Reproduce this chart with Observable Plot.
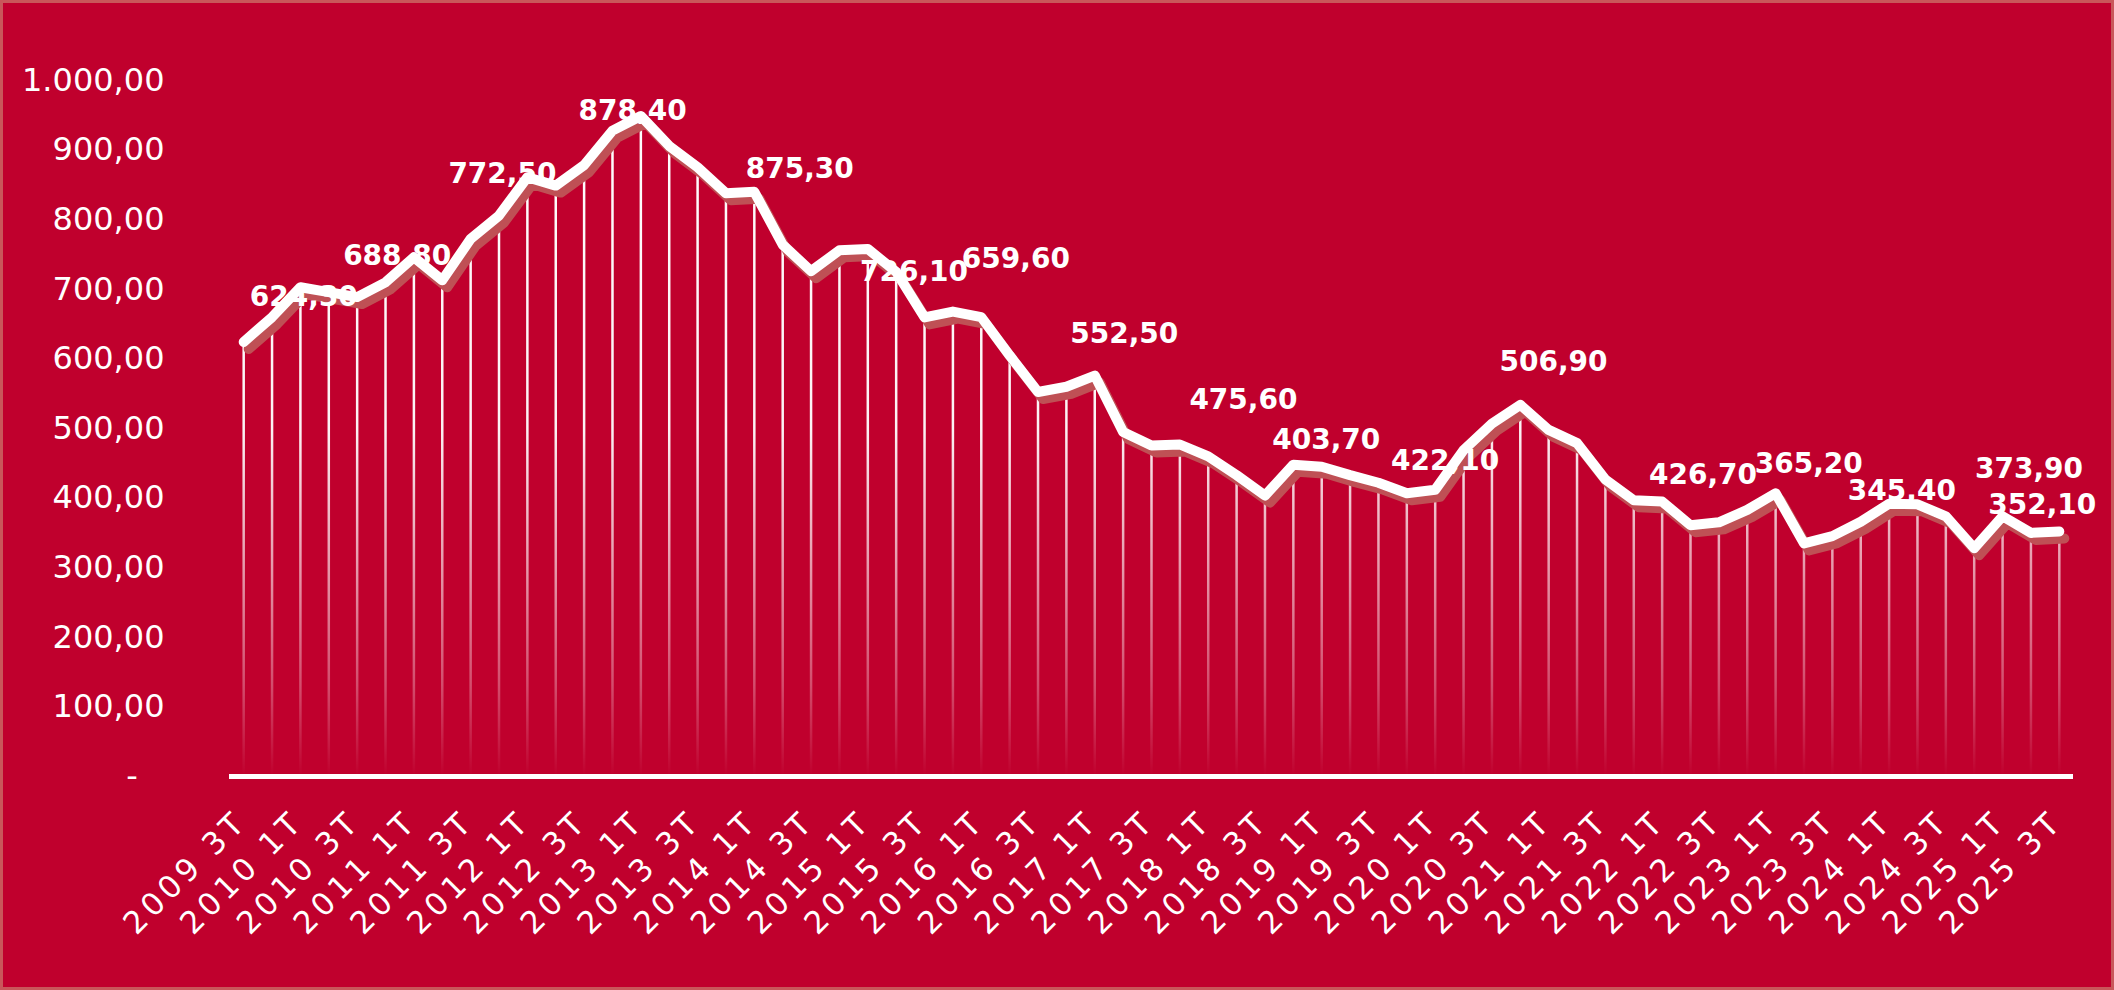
<!DOCTYPE html>
<html><head><meta charset="utf-8">
<script src="https://cdn.jsdelivr.net/npm/d3@7"></script>
<script src="https://cdn.jsdelivr.net/npm/@observablehq/plot@0.6"></script>
<style>
html,body{margin:0;padding:0;background:#C0002D;}
#wrap{position:relative;width:2114px;height:990px;overflow:hidden;background:#C0002D;}
#border{position:absolute;left:0;top:0;width:2114px;height:990px;box-sizing:border-box;border:3px solid #C9575A;pointer-events:none;}
</style></head><body>
<div id="wrap"><div id="chart"></div><div id="border"></div></div>
<script>
const quarters = [
  "2009 3T","2009 4T",
  "2010 1T","2010 2T","2010 3T","2010 4T",
  "2011 1T","2011 2T","2011 3T","2011 4T",
  "2012 1T","2012 2T","2012 3T","2012 4T",
  "2013 1T","2013 2T","2013 3T","2013 4T",
  "2014 1T","2014 2T","2014 3T","2014 4T",
  "2015 1T","2015 2T","2015 3T","2015 4T",
  "2016 1T","2016 2T","2016 3T","2016 4T",
  "2017 1T","2017 2T","2017 3T","2017 4T",
  "2018 1T","2018 2T","2018 3T","2018 4T",
  "2019 1T","2019 2T","2019 3T","2019 4T",
  "2020 1T","2020 2T","2020 3T","2020 4T",
  "2021 1T","2021 2T","2021 3T","2021 4T",
  "2022 1T","2022 2T","2022 3T","2022 4T",
  "2023 1T","2023 2T","2023 3T","2023 4T",
  "2024 1T","2024 2T","2024 3T","2024 4T",
  "2025 1T","2025 2T","2025 3T"
];

const values = [
  624.3, 660, 703, 696, 688.8, 710, 746, 713, 772.5, 806, 861, 849, 878.4, 928, 949, 906,
  875.3, 838, 840, 764, 726.1, 756, 758, 725, 659.6, 668, 660, 605, 552.5, 560, 576, 495,
  475.6, 477, 460, 433, 403.7, 448, 445, 433, 422.1, 407, 412, 469, 506.9, 534, 498, 479,
  426.7, 397, 395, 361, 365.2, 383, 407, 335, 345.4, 366, 392, 391, 373.9, 328, 374, 350,
  352.1
];

// data labels (values shown) and where they sit (category index, value units)
const labelValues = [624.3, 688.8, 772.5, 878.4, 875.3, 726.1, 659.6, 552.5, 475.6, 403.7, 422.1, 506.9, 426.7, 365.2, 345.4, 373.9, 352.1];
const labelX = [2.12, 5.41, 9.12, 13.71, 19.6, 23.63, 27.22, 31.04, 35.24, 38.16, 42.35, 46.17, 51.44, 55.17, 58.45, 62.93, 63.4];
const labelY = [688.6, 748.5, 865.8, 956.6, 873, 724.5, 743.8, 636.1, 540.3, 482.9, 452.8, 595.3, 432.7, 449.5, 409.7, 442.3, 389.6];

const yTicks = [0, 100, 200, 300, 400, 500, 600, 700, 800, 900, 1000];

const fmt = d3.formatLocale({decimal: ",", thousands: ".", grouping: [3], currency: ["", ""]}).format(",.2f");
const series = quarters.map((q, i) => ({i, q, v: values[i]}));
const tickIdx = quarters.map((q, i) => i).filter(i => i % 2 === 0);
const labels = labelValues.map((v, k) => ({v, x: labelX[k], y: labelY[k]}));

const chart = Plot.plot({
  width: 2114, height: 990,
  marginLeft: 229, marginRight: 41, marginTop: 80, marginBottom: 214,
  style: {background: "transparent", color: "white", fontFamily: "'DejaVu Sans', Verdana, sans-serif", overflow: "visible"},
  x: {type: "linear", domain: [-0.5, quarters.length - 0.5], axis: null},
  y: {domain: [0, 1000], axis: null},
  marks: [
    Plot.ruleX(series, {x: "i", y1: 0, y2: "v", stroke: "url(#fade)", strokeWidth: 2.5}),
    Plot.line(series, {x: "i", y: "v", stroke: "#BF5055", strokeWidth: 10, dx: 5, dy: 7, strokeLinejoin: "round", strokeLinecap: "round"}),
    Plot.line(series, {x: "i", y: "v", stroke: "white", strokeWidth: 10, strokeLinejoin: "round", strokeLinecap: "round"}),
    Plot.ruleY([0], {stroke: "white", strokeWidth: 5}),
    Plot.axisY({ticks: yTicks, tickSize: 0, tickPadding: 65, fontSize: 32, fill: "white",
      tickFormat: d => d === 0 ? "-\u2007\u2009" : fmt(d)}),
    Plot.text(tickIdx, {x: d => d, y: 0, text: d => quarters[d], rotate: -45, textAnchor: "end", lineAnchor: "middle",
      dy: 40, dx: -2, fill: "white", fontSize: 31}),
    Plot.text(labels, {x: "x", y: "y", text: d => fmt(d.v).replace(/\./g, ""), fill: "white", fontWeight: "bold", fontSize: 28,
      textAnchor: "middle", lineAnchor: "middle"})
  ]
});

document.getElementById("chart").appendChild(chart);

const svg = d3.select(chart);
const ys = chart.scale("y");
const yTop = ys.apply(1000), yBot = ys.apply(0);
const grad = svg.insert("defs", ":first-child").append("linearGradient")
  .attr("id", "fade").attr("gradientUnits", "userSpaceOnUse")
  .attr("x1", 0).attr("x2", 0).attr("y1", yTop).attr("y2", yBot);
[[0, 1], [0.5, 0.95], [0.7, 0.6], [0.87, 0.3], [1, 0]].forEach(([o, a]) =>
  grad.append("stop").attr("offset", o).attr("stop-color", "white").attr("stop-opacity", a));
svg.selectAll("text").filter(function() {
  const t = this.getAttribute("transform") || "";
  return t.includes("rotate(-45");
}).attr("letter-spacing", "4.5px").style("letter-spacing", "4.5px");
</script>
</body></html>
